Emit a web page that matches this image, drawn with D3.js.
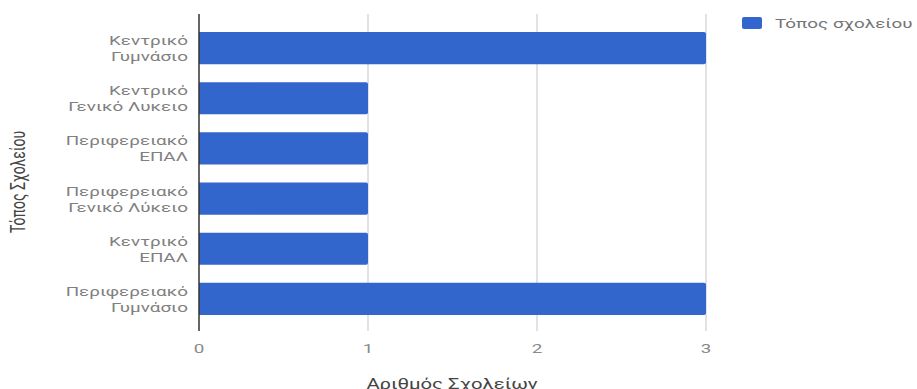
<!DOCTYPE html>
<html>
<head>
<meta charset="utf-8">
<script src="https://cdn.jsdelivr.net/npm/d3@7"></script>
<style>
  body { margin: 0; background: #fff; }
  text { font-family: Roboto, "Noto Sans", sans-serif; }
</style>
</head>
<body>
<div id="chart"></div>
<script>
var categories = ["Κεντρικό Γυμνάσιο", "Κεντρικό Γενικό Λυκειο", "Περιφερειακό ΕΠΑΛ",
                  "Περιφερειακό Γενικό Λύκειο", "Κεντρικό ΕΠΑΛ", "Περιφερειακό Γυμνάσιο"];
var values = [3, 1, 1, 1, 1, 3];
var xTicks = [0, 1, 2, 3];
var seriesName = "Τόπος σχολείου";
var xTitle = "Αριθμός Σχολείων";
var yTitle = "Τόπος Σχολείου";

var width = 917, height = 389;
var stretch = 1.45; // the picture is widened, text looks wide

var svg = d3.select("#chart")
  .append("svg")
    .attr("width", width)
    .attr("height", height);

var x = d3.scaleLinear()
  .domain([0, 3])
  .range([199, 706]);

var y = d3.scaleBand()
  .domain(categories)
  .range([23, 324])
  .paddingInner(0.36)
  .paddingOuter(0.18);

var gridTop = 14, gridBottom = 331;

// gridlines
svg.append("g")
  .selectAll("line")
  .data(xTicks.filter(function(d){ return d > 0; }))
  .enter().append("line")
    .attr("x1", function(d){ return x(d); })
    .attr("x2", function(d){ return x(d); })
    .attr("y1", gridTop)
    .attr("y2", gridBottom)
    .attr("stroke", "#d9d9d9")
    .attr("stroke-width", 1.5);

// bars
svg.append("g")
  .selectAll("path")
  .data(values)
  .enter().append("path")
    .attr("fill", "#3366cc")
    .attr("d", function(d, i){
      var x0 = x(0), x1 = x(d), y0 = y(categories[i]), h = y.bandwidth(), r = 2;
      return "M" + x0 + "," + y0 + "H" + (x1 - r) + "Q" + x1 + "," + y0 + " " + x1 + "," + (y0 + r)
        + "V" + (y0 + h - r) + "Q" + x1 + "," + (y0 + h) + " " + (x1 - r) + "," + (y0 + h)
        + "H" + x0 + "Z";
    });

// baseline
svg.append("line")
  .attr("x1", x(0)).attr("x2", x(0))
  .attr("y1", gridTop).attr("y2", gridBottom)
  .attr("stroke", "#333")
  .attr("stroke-width", 1.5);

function stretchedText(g, tx, ty, extra){
  return g.append("text")
    .attr("transform", "translate(" + tx + "," + ty + ") scale(" + stretch + ",1)" + (extra || ""));
}

// x tick labels
xTicks.forEach(function(t){
  stretchedText(svg, x(t), 353)
    .attr("text-anchor", "middle")
    .attr("font-size", 13)
    .attr("fill", "#8a8a8a")
    .text(t);
});

// y category labels, two lines
categories.forEach(function(c){
  var k = c.indexOf(" ");
  var lines = [c.slice(0, k), c.slice(k + 1)];
  var cy = y(c) + y.bandwidth() / 2;
  lines.forEach(function(l, j){
    stretchedText(svg, 188, cy - 3 + j * 16)
      .attr("text-anchor", "end")
      .attr("font-size", 13)
      .attr("fill", "#808080")
      .text(l);
  });
});

// axis titles
stretchedText(svg, 452, 389)
  .attr("text-anchor", "middle")
  .attr("font-size", 14)
  .attr("fill", "#444")
  .text(xTitle);

stretchedText(svg, 25, 182, " rotate(-90)")
  .attr("text-anchor", "middle")
  .attr("font-size", 14)
  .attr("fill", "#444")
  .text(yTitle);

// legend
var legend = svg.append("g");
legend.append("rect")
  .attr("x", 742).attr("y", 17)
  .attr("width", 20).attr("height", 12)
  .attr("rx", 2)
  .attr("fill", "#3366cc");
stretchedText(legend, 775, 28)
  .attr("font-size", 13)
  .attr("fill", "#757575")
  .text(seriesName);
</script>
</body>
</html>
